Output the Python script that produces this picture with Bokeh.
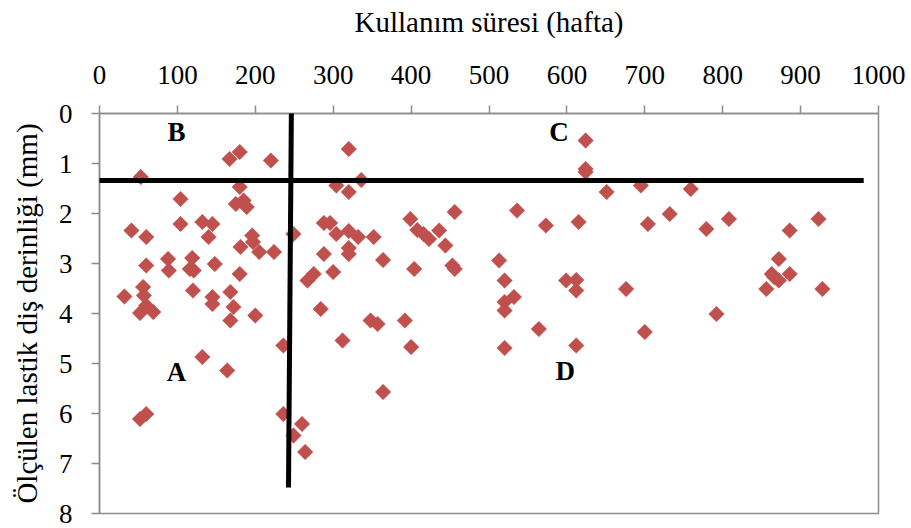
import numpy as np
from bokeh.plotting import figure
from bokeh.models import Range1d, FixedTicker, Arrow, ColumnDataSource
from bokeh.core.properties import value
from bokeh.embed import file_html
from bokeh.resources import INLINE

# ---- data ----
weeks = [53, 167, 180, 220, 180, 104, 175, 185, 189, 41, 60, 104, 132, 145, 140,
         181, 196, 197, 205, 224, 60, 88, 89, 119, 116, 121, 148, 180, 32, 56,
         57, 60, 52, 69, 120, 145, 145, 168, 172, 168, 200, 236, 132, 164, 52,
         60, 236, 260, 249, 264,
         320, 304, 320, 336, 249, 288, 296, 304, 320, 332, 352, 320, 320, 288,
         364, 300, 275, 267, 284, 348, 357, 312, 392, 400, 364, 399, 408, 416,
         423, 436, 456, 444, 453, 456, 404, 536, 573, 615, 513, 520, 532, 520,
         520, 599, 612, 612, 564, 520, 612, 624, 624, 624, 651, 695, 759, 704,
         732, 779, 808, 886, 923, 872, 863, 866, 872, 886, 856, 928, 676, 792,
         700]
depth = [1.27, 0.91, 0.77, 0.94, 1.47, 1.71, 1.81, 1.74, 1.87, 2.34, 2.47, 2.21,
         2.17, 2.21, 2.47, 2.67, 2.44, 2.57, 2.77, 2.77, 3.04, 2.91, 3.14, 2.89,
         3.11, 3.14, 3.01, 3.21, 3.66, 3.47, 3.64, 3.84, 3.99, 3.97, 3.54, 3.67,
         3.81, 3.57, 3.87, 4.14, 4.04, 4.64, 4.87, 5.14, 6.11, 6.01, 6.01, 6.21,
         6.44, 6.77,
         0.71, 1.44, 1.57, 1.33, 2.41, 2.19, 2.19, 2.41, 2.35, 2.47, 2.47, 2.69,
         2.81, 2.81, 2.93, 3.17, 3.21, 3.34, 3.91, 4.14, 4.21, 4.54, 4.14, 4.67,
         5.57, 2.11, 2.33, 2.41, 2.51, 2.34, 1.97, 2.64, 3.04, 3.11, 3.11, 1.94,
         2.24, 2.17, 2.94, 3.34, 3.67, 3.77, 3.94, 3.34, 3.33, 3.54, 4.31, 4.69,
         4.64, 0.54, 1.11, 1.17, 1.57, 1.44, 1.51, 2.21, 2.01, 2.31, 2.11, 2.34,
         2.11, 2.91, 3.21, 3.27, 3.34, 3.21, 3.51, 3.51, 3.51, 4.01, 4.37]

x_ticks = [0, 100, 200, 300, 400, 500, 600, 700, 800, 900, 1000]
y_ticks = [0, 1, 2, 3, 4, 5, 6, 7, 8]

# quadrant dividing lines (data units)
vline_x = [246.5, 242.6]
vline_y = [-0.42, 7.48]
hline_x = [-18, 981]
hline_y = [1.34, 1.34]

quad_labels = ["A", "B", "C", "D"]
quad_x = [99, 99, 590, 598]
quad_y = [5.17, 0.37, 0.37, 5.14]

SERIF = "serif"

p = figure(width=911, height=528, output_backend="svg", toolbar_location=None,
           x_range=Range1d(0, 1000), y_range=Range1d(8, 0),
           x_axis_location="above",
           min_border_left=99, min_border_right=33, min_border_top=113,
           min_border_bottom=15)
p.background_fill_color = "white"
p.border_fill_color = "white"
p.outline_line_color = "#8c8c8c"
p.outline_line_width = 1.5
p.xgrid.visible = False
p.ygrid.visible = False

p.xaxis.ticker = FixedTicker(ticks=x_ticks)
p.yaxis.ticker = FixedTicker(ticks=y_ticks)
p.axis.axis_line_color = "#8c8c8c"
p.axis.axis_line_width = 1.5
p.axis.major_tick_line_color = "#8c8c8c"
p.axis.major_tick_line_width = 1.5
p.axis.major_tick_out = 8
p.axis.major_tick_in = 0
p.axis.minor_tick_line_color = None
p.axis.major_label_text_font = SERIF
p.axis.major_label_text_font_size = "27px"
p.axis.major_label_text_color = "black"
p.axis.axis_label_text_font = SERIF
p.axis.axis_label_text_font_size = "29px"
p.axis.axis_label_text_font_style = "normal"
p.axis.axis_label_text_color = "black"

p.xaxis.axis_label = "Kullanım süresi (hafta)"
p.xaxis.major_label_standoff = 22
p.xaxis.axis_label_standoff = 25
p.yaxis.axis_label = "Ölçülen lastik diş derinliği (mm)"
p.yaxis.major_label_standoff = 19
p.yaxis.axis_label_standoff = 13

src = ColumnDataSource(dict(x=weeks, y=depth))
p.scatter("x", "y", source=src, marker="square", angle=np.pi / 4, size=11,
          fill_color="#C0504D", line_color="#C0504D", line_width=0.5)

p.add_layout(Arrow(end=None, x_start=vline_x[0], y_start=vline_y[0],
                   x_end=vline_x[1], y_end=vline_y[1],
                   line_color="black", line_width=5))
p.add_layout(Arrow(end=None, x_start=hline_x[0], y_start=hline_y[0],
                   x_end=hline_x[1], y_end=hline_y[1],
                   line_color="black", line_width=5))

lsrc = ColumnDataSource(dict(x=quad_x, y=quad_y, t=quad_labels))
p.text("x", "y", text="t", source=lsrc, text_font=value(SERIF),
       text_font_style="bold", text_font_size="27px", text_color="black",
       text_align="center", text_baseline="middle")

open("out.html", "w").write(file_html(p, INLINE))
